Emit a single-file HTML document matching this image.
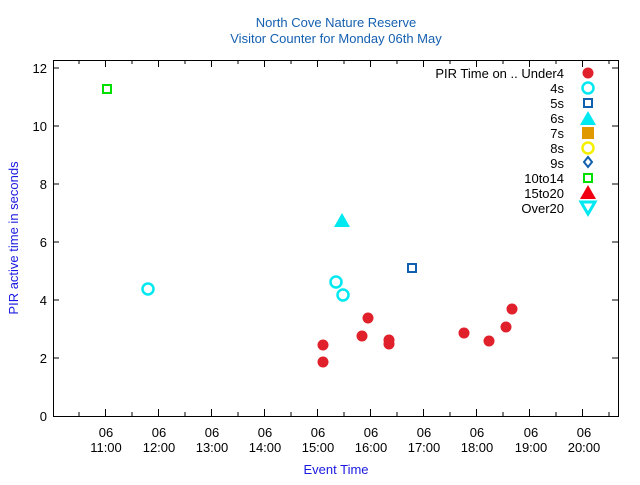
<!DOCTYPE html>
<html><head><style>body{margin:0;background:#fff}svg{font-family:"Liberation Sans",sans-serif}</style></head><body>
<svg width="640" height="480" xmlns="http://www.w3.org/2000/svg">
<rect width="640" height="480" fill="#fff"/>
<text x="336" y="27" fill="#1560b0" font-size="13" text-anchor="middle">North Cove Nature Reserve</text>
<text x="336" y="43" fill="#1560b0" font-size="13" text-anchor="middle">Visitor Counter for Monday 06th May</text>
<rect x="53.5" y="60.5" width="565" height="356" fill="none" stroke="#000"/>
<g stroke="#000">
<path d="M53 358h6M53 300h6M53 242h6M53 184h6M53 126h6M53 68h6"/>
<path d="M618 358h-6M618 300h-6M618 242h-6M618 184h-6M618 126h-6M618 68h-6"/>
<path d="M105.5 416v-7M158.5 416v-7M211.5 416v-7M264.5 416v-7M317.5 416v-7M370.5 416v-7M423.5 416v-7M476.5 416v-7M529.5 416v-7M582.5 416v-7"/>
<path d="M79 416v-4M132 416v-4M185 416v-4M238 416v-4M291 416v-4M344 416v-4M397 416v-4M450 416v-4M503 416v-4M556 416v-4M609 416v-4"/>
<path d="M105.5 60v7M158.5 60v7M211.5 60v7M264.5 60v7M317.5 60v7M370.5 60v7M423.5 60v7M476.5 60v7M529.5 60v7M582.5 60v7"/>
<path d="M79 60v4M132 60v4M185 60v4M238 60v4M291 60v4M344 60v4M397 60v4M450 60v4M503 60v4M556 60v4M609 60v4"/>
</g>
<g font-size="13" fill="#000" text-anchor="end">
<text x="47" y="421">0</text><text x="47" y="363">2</text><text x="47" y="305">4</text><text x="47" y="247">6</text><text x="47" y="189">8</text><text x="47" y="131">10</text><text x="47" y="73">12</text>
</g>
<g font-size="13" fill="#000" text-anchor="middle">
<text x="106" y="437">06</text><text x="106" y="452">11:00</text>
<text x="159" y="437">06</text><text x="159" y="452">12:00</text>
<text x="212" y="437">06</text><text x="212" y="452">13:00</text>
<text x="265" y="437">06</text><text x="265" y="452">14:00</text>
<text x="318" y="437">06</text><text x="318" y="452">15:00</text>
<text x="371" y="437">06</text><text x="371" y="452">16:00</text>
<text x="424" y="437">06</text><text x="424" y="452">17:00</text>
<text x="477" y="437">06</text><text x="477" y="452">18:00</text>
<text x="531" y="437">06</text><text x="531" y="452">19:00</text>
<text x="584" y="437">06</text><text x="584" y="452">20:00</text>
</g>
<text x="336" y="474" fill="#1a1ae0" font-size="13" text-anchor="middle">Event Time</text>
<text transform="translate(18,238) rotate(-90)" fill="#1a1ae0" font-size="13" text-anchor="middle">PIR active time in seconds</text>
<g font-size="13" fill="#000" text-anchor="end">
<text x="564" y="78">PIR Time on .. Under4</text><text x="564" y="93">4s</text><text x="564" y="108">5s</text><text x="564" y="123">6s</text><text x="564" y="138">7s</text><text x="564" y="153">8s</text><text x="564" y="168">9s</text><text x="564" y="183">10to14</text><text x="564" y="198">15to20</text><text x="564" y="213">Over20</text>
</g>
<circle cx="588" cy="73" r="5.5" fill="#e0202a"/>
<circle cx="588" cy="88" r="5.5" fill="none" stroke="#00e8f0" stroke-width="2.5"/>
<rect x="584" y="99" width="8" height="8" fill="none" stroke="#1060b0" stroke-width="2"/>
<path d="M580 125L588 111L596 125Z" fill="#00e8f0"/>
<rect x="582" y="127" width="12" height="12" fill="#e09a00"/>
<circle cx="588" cy="148" r="5.5" fill="none" stroke="#f5f000" stroke-width="2.5"/>
<path d="M588 157L592 162L588 167L584 162Z" fill="none" stroke="#1060b0" stroke-width="2"/>
<rect x="584" y="174" width="8" height="8" fill="none" stroke="#00e000" stroke-width="2"/>
<path d="M580 199L588 185L596 199Z" fill="#f00010"/>
<path d="M581 202L595 202L588 214Z" fill="none" stroke="#00e8f0" stroke-width="3"/>
<g fill="#e0202a">
<circle cx="323" cy="345" r="5.5"/><circle cx="323" cy="362" r="5.5"/><circle cx="362" cy="336" r="5.5"/><circle cx="368" cy="318" r="5.5"/><circle cx="389" cy="340" r="5.5"/><circle cx="389" cy="344" r="5.5"/><circle cx="464" cy="333" r="5.5"/><circle cx="489" cy="341" r="5.5"/><circle cx="506" cy="327" r="5.5"/><circle cx="512" cy="309" r="5.5"/>
</g>
<g fill="none" stroke="#00e8f0" stroke-width="2.5">
<circle cx="148" cy="289" r="5.5"/><circle cx="336" cy="282" r="5.5"/><circle cx="343" cy="295" r="5.5"/>
</g>
<rect x="408" y="264" width="8" height="8" fill="none" stroke="#1060b0" stroke-width="2"/>
<path d="M334 227L342 213L350 227Z" fill="#00e8f0"/>
<rect x="103" y="85" width="8" height="8" fill="none" stroke="#00e000" stroke-width="2"/>
</svg>
</body></html>
